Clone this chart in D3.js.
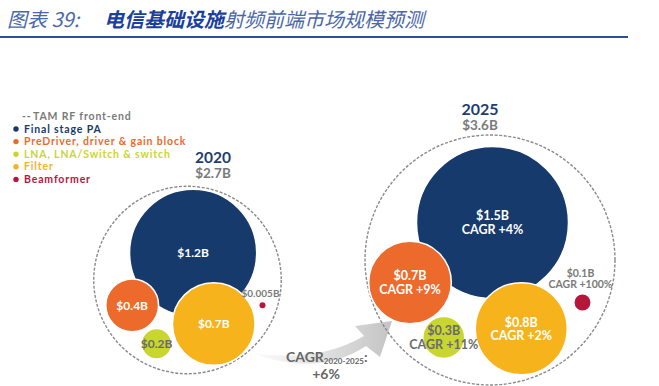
<!DOCTYPE html>
<html>
<head>
<meta charset="utf-8">
<script src="https://cdn.jsdelivr.net/npm/d3@7"></script>
<style>
  body { margin:0; background:#fff; }
  svg { display:block; font-family: Lato, "Open Sans", sans-serif; }
</style>
</head>
<body>
<svg id="chart" width="659" height="386"></svg>
<script>
// データ
const years = ["2020", "2025"];
const totals = [2.7, 3.6];              // TAM RF front-end ($B)
const segments = ["Final stage PA", "PreDriver, driver & gain block", "LNA, LNA/Switch & switch", "Filter", "Beamformer"];
const values2020 = [1.2, 0.4, 0.2, 0.7, 0.005];
const values2025 = [1.5, 0.7, 0.3, 0.8, 0.1];
const cagr2025 = [4, 9, 11, 2, 100];    // %
const cagrTotal = 6;

// 見た目
const colors = ["#173a6c", "#ec6a2c", "#c9d62f", "#f6b31c", "#b7163b"];
const textColors = ["#fff", "#fff", "#6b6b6b", "#fff", "#7a7a7a"];
const grey = "#7a7a7a";

// レイアウト（外円の中心・外円に対する相対位置）
const panels = [
  {cx:187.5, cy:280, labelX:213},
  {cx:490,   cy:260, labelX:480}
];
const slots = [
  [[0.06,-0.29],[-0.59,0.27],[-0.33,0.68],[0.28,0.47],[0.80,0.27]],
  [[0.02,-0.30],[-0.64,0.18],[-0.37,0.62],[0.25,0.55],[0.74,0.34]]
];

const svg = d3.select("#chart");

//タイトル
const titleFont = "'Noto Sans CJK SC', sans-serif";
svg.append("text").attr("x", 7).attr("y", 27)
  .attr("font-family", titleFont).attr("font-size", 20).attr("font-style", "italic")
  .attr("fill", "#4a68a8").text("图表 39:");
const title = svg.append("text")
  .attr("x", 104).attr("y", 27)
  .attr("font-family", titleFont)
  .attr("font-size", 20)
  .attr("font-style", "italic");
title.append("tspan").attr("fill", "#1a3f9c").attr("font-weight", "bold").text("电信基础设施");
title.append("tspan").attr("fill", "#4a68a8").text("射频前端市场规模预测");

svg.append("line")
  .attr("x1", 0).attr("x2", 628).attr("y1", 37).attr("y2", 37)
  .attr("stroke", "#2a4f9e").attr("stroke-width", 2);

//凡例
const legend = svg.append("g").attr("font-size", 10.5).attr("font-weight", "bold")
  .attr("letter-spacing", 0.85);
legend.append("text").attr("x", 22).attr("y", 119.5).attr("fill", grey).text("--");
legend.append("text").attr("x", 33).attr("y", 120).attr("fill", grey).text("TAM RF front-end");
segments.forEach(function(s, i){
  const y = 120 + (i + 1) * 12.6;
  legend.append("circle").attr("cx", 16).attr("cy", y - 3.6).attr("r", 2.7).attr("fill", colors[i]);
  legend.append("text").attr("x", 24).attr("y", y).attr("fill", colors[i]).text(s);
});

// スケール
const rScale = d3.scalePow().exponent(0.8).domain([0, 1.5]).range([0, 76]);
const outerScale = d3.scaleLinear().domain([0, 3.6]).range([0, 125]);

//矢印
const defs = svg.append("defs");
const grad = defs.append("linearGradient").attr("id", "arrowGrad")
  .attr("x1", "0%").attr("x2", "100%").attr("y1", "0%").attr("y2", "0%");
grad.append("stop").attr("offset", "0%").attr("stop-color", "#ffffff");
grad.append("stop").attr("offset", "100%").attr("stop-color", "#c4c4c4");
const arrow = d3.path();
arrow.moveTo(248, 352);
arrow.quadraticCurveTo(318, 378, 366, 346);
arrow.lineTo(380, 357);
arrow.lineTo(392, 321);
arrow.lineTo(355, 326);
arrow.lineTo(364, 336);
arrow.quadraticCurveTo(316, 364, 248, 352);
arrow.closePath();
svg.append("path").attr("d", arrow.toString()).attr("fill", "url(#arrowGrad)");

const cagrText = svg.append("text").attr("font-size", 14).attr("font-weight", "bold").attr("fill", "#666");
cagrText.append("tspan").attr("x", 286).attr("y", 362).text("CAGR");
cagrText.append("tspan").attr("font-size", 8).attr("dy", 2).text(years[0] + "-" + years[1]);
cagrText.append("tspan").attr("dy", -2).text(":");
svg.append("text").attr("x", 326).attr("y", 379).attr("text-anchor", "middle")
  .attr("font-size", 14).attr("font-weight", "bold").attr("fill", "#666")
  .text("+" + cagrTotal + "%");

function fmt(v){ return "$" + v + "B"; }

// パネル描画
[values2020, values2025].forEach(function(vals, p){
  const pan = panels[p];
  const R = outerScale(totals[p]);
  const x = d3.scaleLinear().domain([-1, 1]).range([pan.cx - R, pan.cx + R]);
  const y = d3.scaleLinear().domain([-1, 1]).range([pan.cy - R, pan.cy + R]);
  const g = svg.append("g");

  g.append("circle").attr("cx", pan.cx).attr("cy", pan.cy).attr("r", R)
    .attr("fill", "none").attr("stroke", "#8a8a8a").attr("stroke-width", 1.4)
    .attr("stroke-dasharray", "3,1.6");

  const big = p === 1;
  g.append("text").attr("x", pan.labelX).attr("y", pan.cy - R - (big ? 20 : 23))
    .attr("text-anchor", "middle").attr("font-weight", "bold")
    .attr("font-size", big ? 16 : 15.5).attr("fill", "#1f3d6e").text(years[p]);
  g.append("text").attr("x", pan.labelX).attr("y", pan.cy - R - (big ? 5 : 8))
    .attr("text-anchor", "middle").attr("font-weight", "bold")
    .attr("font-size", 13.5).attr("fill", grey).text(fmt(totals[p]));

  const nodes = vals.map(function(v, i){
    return {i: i, v: v, x: x(slots[p][i][0]), y: y(slots[p][i][1]), r: Math.max(3, rScale(v))};
  });

  g.selectAll("circle.bub").data(nodes).enter().append("circle")
    .attr("class", "bub")
    .attr("cx", d => d.x).attr("cy", d => d.y).attr("r", d => d.r)
    .attr("fill", d => colors[d.i])
    .attr("stroke", "#fff").attr("stroke-width", d => d.r > 6 ? 1.5 : 0);

  nodes.forEach(function(d){
    const lines = [fmt(d.v)];
    if (big) lines.push("CAGR +" + cagr2025[d.i] + "%");
    const outside = d.i === 4;
    const fs = outside ? (big ? 10.5 : 10) : (big ? 12.5 : 12);
    const lh = fs + 1;
    const t = g.append("text").attr("text-anchor", "middle").attr("font-weight", "bold")
      .attr("font-size", fs).attr("fill", textColors[d.i]);
    let y0;
    if (outside) {
      y0 = d.y - d.r - 5.5 - (lines.length - 1) * lh;
    } else {
      y0 = d.y + fs * 0.36 - (lines.length - 1) * lh / 2;
    }
    lines.forEach(function(s, k){
      t.append("tspan").attr("x", d.x - (outside ? 2 : 0)).attr("y", y0 + k * lh).text(s);
    });
  });
});
</script>
</body>
</html>
